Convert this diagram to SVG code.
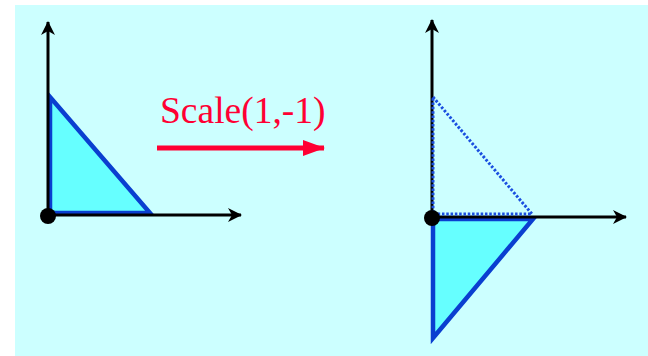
<svg xmlns="http://www.w3.org/2000/svg" width="648" height="356" viewBox="0 0 648 356">
<defs>
<style>
.axis{stroke:#000;stroke-width:3;fill:none}
.tri{fill:#66ffff;stroke:#0a3fd0;stroke-width:4.5;stroke-linejoin:miter}
.dotted{fill:none;stroke:#1a4fe0;stroke-width:3;stroke-dasharray:2.5 1.8}
</style>
<marker id="ah" viewBox="0 0 14 14" refX="13" refY="7" markerWidth="14" markerHeight="14" markerUnits="userSpaceOnUse" orient="auto">
<path d="M0,0 L14,7 L0,14 L4,7 Z" fill="#000"/>
</marker>
<marker id="rh" viewBox="0 0 22 16" refX="21" refY="8" markerWidth="22" markerHeight="16" markerUnits="userSpaceOnUse" orient="auto">
<path d="M0,0 L22,8 L0,16 Z" fill="#ff0033"/>
</marker>
</defs>
<rect x="15" y="5" width="633" height="351" fill="#ccffff"/>
<g id="left">
<polygon class="tri" points="50,97 150,213 50,213"/>
<line class="axis" x1="48" y1="216" x2="48" y2="22" marker-end="url(#ah)"/>
<line class="axis" x1="48" y1="215" x2="241" y2="215" marker-end="url(#ah)"/>
<circle cx="48" cy="216" r="8" fill="#000"/>
</g>
<g id="label">
<text x="160" y="123" font-family="Liberation Serif, serif" font-size="37.5" fill="#ff0033">Scale(1,-1)</text>
</g>
<g id="connectors">
<line x1="157" y1="148" x2="324" y2="148" stroke="#ff0033" stroke-width="5" marker-end="url(#rh)"/>
</g>
<g id="right">
<polygon class="tri" points="433,219 533,219 433,338"/>
<line class="axis" x1="432" y1="218" x2="432" y2="20" marker-end="url(#ah)"/>
<line class="axis" x1="432" y1="217" x2="626" y2="217" marker-end="url(#ah)"/>
<polygon class="dotted" points="433,97 532,214 433,214"/>
<circle cx="432" cy="218" r="8" fill="#000"/>
</g>
</svg>
